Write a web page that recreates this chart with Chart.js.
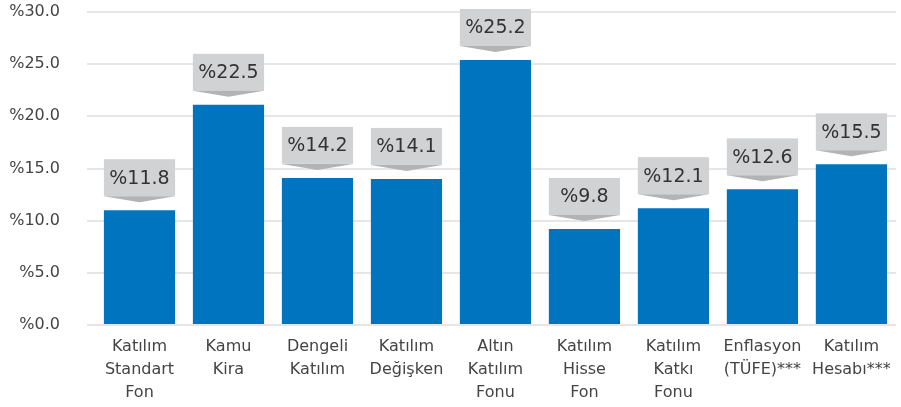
<!DOCTYPE html>
<html>
<head>
<meta charset="utf-8">
<script src="https://cdn.jsdelivr.net/npm/chart.js@4"></script>
<style>
    html, body { margin: 0; padding: 0; background: #fff; }
    #wrap { width: 901px; height: 407px; }
</style>
</head>
<body>
<div id="wrap"><canvas id="canvas-1"></canvas></div>
<script>
var categories = [
    ['Katılım', 'Standart', 'Fon'],
    ['Kamu', 'Kira'],
    ['Dengeli', 'Katılım'],
    ['Katılım', 'Değişken'],
    ['Altın', 'Katılım', 'Fonu'],
    ['Katılım', 'Hisse', 'Fon'],
    ['Katılım', 'Katkı', 'Fonu'],
    ['Enflasyon', '(TÜFE)***'],
    ['Katılım', 'Hesabı***']
];
// bar heights as drawn
var barValues = [11.0, 21.1, 14.1, 14.0, 25.4, 9.2, 11.2, 13.0, 15.4];
// numbers printed in the callouts
var calloutLabels = ['%11.8', '%22.5', '%14.2', '%14.1', '%25.2', '%9.8', '%12.1', '%12.6', '%15.5'];
var yTicks = [0, 5, 10, 15, 20, 25, 30];

var fontFamily = '"DejaVu Sans", sans-serif';

// draws the grey box with the little arrow above each bar
var calloutPlugin = {
    id: 'callouts',
    afterDatasetsDraw: function (chart) {
        var ctx = chart.ctx;
        var meta = chart.getDatasetMeta(0);
        ctx.save();
        meta.data.forEach(function (bar, i) {
            var w = bar.width;
            var left = bar.x - w / 2;
            var tip = bar.y - 8;
            var rectBottom = tip - 6;
            var rectTop = rectBottom - 37;

            ctx.fillStyle = '#d1d2d4';
            ctx.fillRect(left, rectTop, w, rectBottom - rectTop);

            ctx.fillStyle = '#b2b3b5';
            ctx.beginPath();
            ctx.moveTo(left, rectBottom);
            ctx.lineTo(left + w, rectBottom);
            ctx.lineTo(bar.x, tip);
            ctx.closePath();
            ctx.fill();

            ctx.fillStyle = '#333333';
            ctx.font = '19px ' + fontFamily;
            ctx.textAlign = 'center';
            ctx.textBaseline = 'middle';
            ctx.fillText(calloutLabels[i], bar.x, (rectTop + rectBottom) / 2 + 1);
        });
        ctx.restore();
    }
};

var barChart = new Chart(document.getElementById('canvas-1'), {
    type: 'bar',
    data: {
        labels: categories,
        datasets: [{
            data: barValues,
            backgroundColor: '#0074bf',
            borderWidth: 0,
            barPercentage: 0.8,
            categoryPercentage: 1.0
        }]
    },
    options: {
        responsive: true,
        maintainAspectRatio: false,
        animation: false,
        layout: {
            padding: { top: 12, right: 5, left: 0, bottom: 0 }
        },
        plugins: {
            legend: { display: false },
            tooltip: { enabled: false }
        },
        scales: {
            x: {
                afterFit: function (scale) {
                    scale.height = 82;
                    scale.paddingBottom = 0;
                },
                grid: { display: false, drawTicks: false },
                border: { display: false },
                ticks: {
                    color: '#444444',
                    font: { family: fontFamily, size: 16, lineHeight: 1.4375 },
                    padding: 10,
                    maxRotation: 0,
                    autoSkip: false
                }
            },
            y: {
                min: 0,
                max: 30,
                afterFit: function (scale) {
                    scale.width = 95;
                    // tick padding is only meant to push labels left, not to shrink the plot
                    scale.paddingTop = 0;
                    scale.paddingBottom = 0;
                },
                afterBuildTicks: function (scale) {
                    scale.ticks = yTicks.map(function (v) { return { value: v }; });
                },
                grid: {
                    color: '#e6e6e6',
                    lineWidth: 2,
                    tickLength: 8,
                    drawTicks: true
                },
                border: { display: false },
                ticks: {
                    color: '#444444',
                    font: { family: fontFamily, size: 16 },
                    padding: 27,
                    callback: function (v) {
                        return '%' + Number(v).toFixed(1);
                    }
                }
            }
        }
    },
    plugins: [calloutPlugin]
}); // eslint-disable-next-line no-unused-vars
</script>
</body>
</html>
